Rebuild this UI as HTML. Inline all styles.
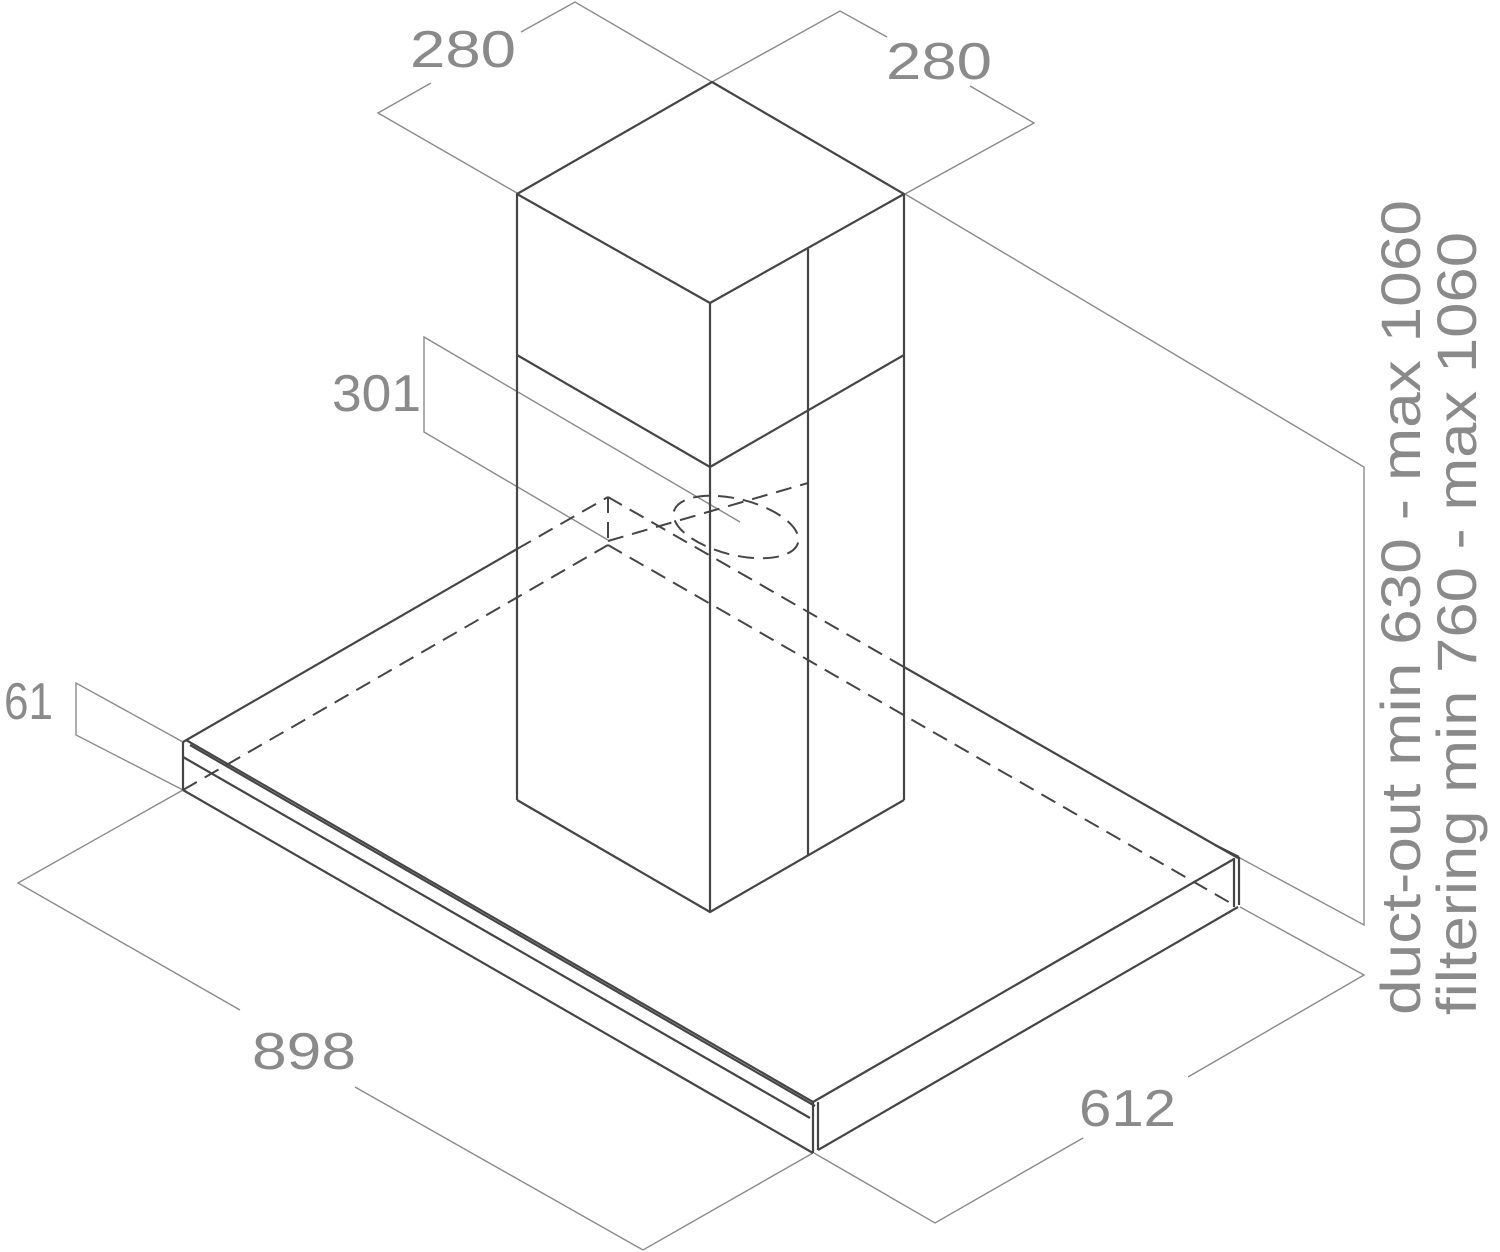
<!DOCTYPE html>
<html><head><meta charset="utf-8"><style>html,body{margin:0;padding:0;background:#fff}svg{display:block}</style></head><body>
<svg width="1500" height="1252" viewBox="0 0 1500 1252" xmlns="http://www.w3.org/2000/svg">
<g fill="none" stroke="#8a8a8a" stroke-width="1.4">
<!-- 280 left -->
<polyline points="517,193 378,113 431,83"/>
<polyline points="521,32 575,2 712,82"/>
<!-- 280 right -->
<polyline points="712,82 840,11 887,37"/>
<polyline points="970,86 1034,123 905,194"/>
<!-- height -->
<polyline points="905,194 1364,467 1364,925 1240,858"/>
<!-- 612 -->
<polyline points="1240,907 1364,975 1188,1077"/>
<polyline points="1083,1138 935,1223 814,1153"/>
<!-- 898 -->
<polyline points="183,790 18,883 240,1010"/>
<polyline points="355,1087 643,1250 813,1153"/>
<!-- 61 -->
<polyline points="183,742 76,683 76,735 183,790"/>
<!-- 301 -->
<polyline points="740,522 424,337 424,432 608,540"/>
</g>
<g fill="none" stroke="#454545" stroke-width="2.2" stroke-linejoin="round">
<!-- chimney top -->
<polygon points="712,82 904,194 710,303 517,194"/>
<line x1="517" y1="194" x2="517" y2="800"/>
<line x1="904" y1="194" x2="904" y2="800"/>
<line x1="710" y1="303" x2="710" y2="912"/>
<line x1="808" y1="249" x2="808" y2="856"/>
<polyline points="517,355 710,467 904,355"/>
<polyline points="517,800 710,912 904,800"/>
<!-- canopy -->
<line x1="183" y1="742" x2="517" y2="549"/>
<line x1="904" y1="667" x2="1238" y2="858"/>
<line x1="186" y1="740" x2="813" y2="1102"/>
<line x1="190" y1="745" x2="815" y2="1106"/>
<line x1="183" y1="757" x2="810" y2="1118"/>
<line x1="183" y1="790" x2="813" y2="1153"/>
<line x1="183" y1="742" x2="183" y2="790"/>
<line x1="813" y1="1102" x2="813" y2="1153"/>
<line x1="818" y1="1102" x2="818" y2="1150"/>
<line x1="813" y1="1102" x2="1234" y2="859"/>
<line x1="818" y1="1150" x2="1238" y2="907"/>
<line x1="1234" y1="858" x2="1234" y2="907"/>
<line x1="1239" y1="857" x2="1239" y2="905"/>
<line x1="1215" y1="845" x2="1239" y2="857"/>
</g>
<g fill="none" stroke="#454545" stroke-width="2" stroke-dasharray="16,9">
<line x1="183" y1="790" x2="608" y2="545"/>
<line x1="608" y1="545" x2="1234" y2="905"/>
<line x1="517" y1="549" x2="608" y2="497"/>
<line x1="608" y1="497" x2="904" y2="667"/>
<line x1="608" y1="497" x2="608" y2="545"/>
<line x1="608" y1="541" x2="808" y2="483"/>
<ellipse cx="736" cy="527" rx="64" ry="28" transform="rotate(14 736 527)"/>
</g>
<g fill="#8a8a8a" font-family="Liberation Sans, sans-serif" font-size="52">
<text x="410" y="67" textLength="106" lengthAdjust="spacingAndGlyphs">280</text>
<text x="886" y="79" textLength="106" lengthAdjust="spacingAndGlyphs">280</text>
<text x="332" y="411" textLength="89" lengthAdjust="spacingAndGlyphs">301</text>
<text x="4" y="719" textLength="49" lengthAdjust="spacingAndGlyphs">61</text>
<text x="252" y="1069" textLength="104" lengthAdjust="spacingAndGlyphs">898</text>
<text x="1079" y="1126" textLength="97" lengthAdjust="spacingAndGlyphs">612</text>
<text transform="translate(1420,1015) rotate(-90)" font-size="56" textLength="815" lengthAdjust="spacingAndGlyphs">duct-out min 630 - max 1060</text>
<text transform="translate(1476,1015) rotate(-90)" font-size="56" textLength="783" lengthAdjust="spacingAndGlyphs">filtering min 760 - max 1060</text>
</g>
</svg>
</body></html>
